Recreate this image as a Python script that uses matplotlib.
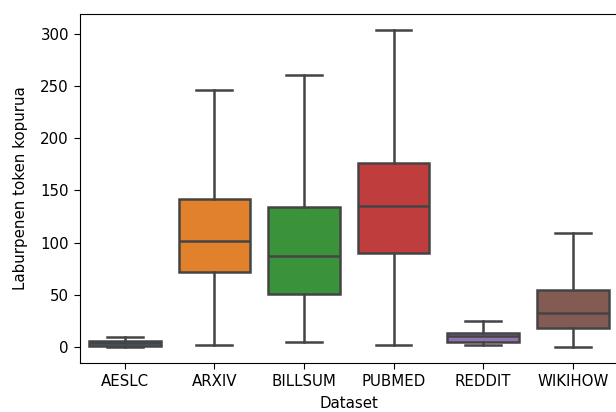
import matplotlib
matplotlib.use("Agg")
import matplotlib.pyplot as plt

# Summary stats per dataset
datasets = ["AESLC", "ARXIV", "BILLSUM", "PUBMED", "REDDIT", "WIKIHOW"]
whislo = [0, 2, 5, 2, 2, 0]
q1 = [1.5, 72, 51, 90.5, 5, 18]
med = [3.5, 101.5, 87, 135, 10.5, 33]
q3 = [5.5, 142, 134, 176, 14, 55]
whishi = [9.5, 246.5, 260.5, 303.5, 25, 109]

colors = ["#3274a1", "#e1812c", "#3a923a", "#c03d3e", "#9372b2", "#845b53"]
edge = "#444444"

plt.rcParams["font.size"] = 10.8

stats = []
for i, name in enumerate(datasets):
    stats.append({"label": name, "whislo": whislo[i], "q1": q1[i], "med": med[i],
                  "q3": q3[i], "whishi": whishi[i], "fliers": []})

fig = plt.figure(figsize=(6.16, 4.12), dpi=100)
ax = fig.add_axes([80 / 616, 49 / 412, 537.5 / 616, 349 / 412])

lw = 1.8
bp = ax.bxp(stats, positions=range(len(datasets)), widths=0.8, patch_artist=True,
            showfliers=False, capwidths=0.4,
            boxprops=dict(edgecolor=edge, linewidth=lw),
            medianprops=dict(color=edge, linewidth=lw),
            whiskerprops=dict(color=edge, linewidth=lw),
            capprops=dict(color=edge, linewidth=lw))
for patch, c in zip(bp["boxes"], colors):
    patch.set_facecolor(c)

ax.set_xlim(-0.5, 5.5)
ax.set_ylim(-15.2, 319)
ax.set_yticks([0, 50, 100, 150, 200, 250, 300])
ax.tick_params(length=4.5)
ax.set_xlabel("Dataset", labelpad=5)
ax.set_ylabel("Laburpenen token kopurua", labelpad=9)

fig.savefig("out.png", dpi=100)
